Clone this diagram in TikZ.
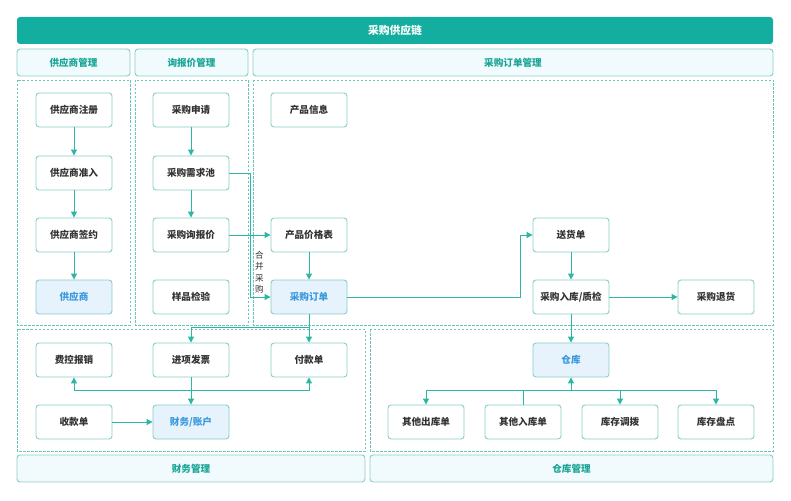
\documentclass[tikz,border=0pt]{standalone}
\usepackage{fontspec}
\setmainfont{Noto Sans CJK SC}
\usetikzlibrary{arrows.meta}
\definecolor{tealbar}{HTML}{13AE9F}
\definecolor{linec}{HTML}{2DB5A6}
\definecolor{boxc}{HTML}{86CEC6}
\definecolor{headfill}{HTML}{F1FAFC}
\definecolor{headtxt}{HTML}{19A596}
\definecolor{dashc}{HTML}{6CC5BB}
\definecolor{bluefill}{HTML}{E7F3FC}
\definecolor{bluetxt}{HTML}{3A98DD}
\definecolor{txt}{HTML}{333333}
\tikzset{
  box/.style={draw=boxc, line width=0.9pt, rounded corners=3pt, fill=white,
    minimum width=76pt, minimum height=34pt, text=txt, font=\fontsize{9.6}{11}\selectfont\bfseries},
  bluebox/.style={box, fill=bluefill, text=bluetxt},
  headbox/.style={draw=boxc, line width=0.9pt, rounded corners=3pt, fill=headfill,
    text=headtxt, font=\fontsize{9.6}{11}\selectfont\bfseries},
  area/.style={draw=dashc, line width=0.7pt, dash pattern=on 2.5pt off 1.5pt},
  arr/.style={draw=linec, line width=1pt, -{Triangle[length=6pt,width=6pt]}},
  ln/.style={draw=linec, line width=1pt},
}
\begin{document}
\begin{tikzpicture}[x=1pt,y=-1pt]
\useasboundingbox (0,0) rectangle (791,500);
% title bar
\node[fill=tealbar, rounded corners=3pt, minimum width=756pt, minimum height=27pt, text=white,
  font=\fontsize{10.8}{12}\selectfont\bfseries, inner sep=0pt] (title) at (395,30.5) {采购供应链};
% header row
\node[headbox, minimum width=113pt, minimum height=27pt] (h1) at (73.5,62.5) {供应商管理};
\node[headbox, minimum width=113pt, minimum height=27pt] (h2) at (191.5,62.5) {询报价管理};
\node[headbox, minimum width=520pt, minimum height=27pt] (h3) at (513,62.5) {采购订单管理};
% dashed areas
\draw[area] (17,80) rectangle (130,325);
\draw[area] (135,80) rectangle (248,325);
\draw[area] (253,80) rectangle (773,325);
\draw[area] (17,329) rectangle (365,451);
\draw[area] (370,329) rectangle (773,451);
% bottom headers
\node[headbox, minimum width=348pt, minimum height=27pt] (h4) at (191,468.5) {财务管理};
\node[headbox, minimum width=403pt, minimum height=27pt] (h5) at (571.5,468.5) {仓库管理};
% column 1
\node[box] (zc) at (74,110) {供应商注册};
\node[box] (zr) at (74,173) {供应商准入};
\node[box] (qy) at (74,235) {供应商签约};
\node[bluebox] (gys) at (74,297) {供应商};
% column 2
\node[box] (sq) at (191,110) {采购申请};
\node[box] (xq) at (191,173) {采购需求池};
\node[box] (xj) at (191,235) {采购询报价};
\node[box] (yp) at (191,297) {样品检验};
% column 3
\node[box] (cp) at (309,110) {产品信息};
\node[box] (jg) at (309,235) {产品价格表};
\node[bluebox] (dd) at (309,297) {采购订单};
\node[box] (sh) at (571,235) {送货单};
\node[box] (rk) at (571,297) {采购入库/质检};
\node[box] (th) at (716,297) {采购退货};
% finance
\node[box] (fy) at (74,360) {费控报销};
\node[box] (jx) at (191,360) {进项发票};
\node[box] (fk) at (309,360) {付款单};
\node[box] (sk) at (74,422) {收款单};
\node[bluebox] (cw) at (191,422) {财务/账户};
% warehouse
\node[bluebox] (ck) at (571,360) {仓库};
\node[box] (qc) at (426,422) {其他出库单};
\node[box] (qr) at (523,422) {其他入库单};
\node[box] (db) at (620,422) {库存调拨};
\node[box] (pd) at (716,422) {库存盘点};
% connectors column 1, 2
\draw[arr] (zc) -- (zr);
\draw[arr] (zr) -- (qy);
\draw[arr] (qy) -- (gys);
\draw[arr] (sq) -- (xq);
\draw[arr] (xq) -- (xj);
\draw[arr] (xj) -- (jg);
\draw[arr] (jg) -- (dd);
\coordinate (j1) at (250,173);
\draw[arr] (xq.east) -- (j1) |- (dd.west);
\node[text=txt, font=\fontsize{8.6}{11.5}\selectfont, align=center, inner sep=0pt] (hb) at (259.5,272) {合\\并\\采\\购};
\coordinate (j2) at (520,235);
\draw[arr] (dd.east) -| (j2) -- (sh.west);
\draw[arr] (sh) -- (rk);
\draw[arr] (rk) -- (th);
\draw[arr] (rk) -- (ck);
% finance connectors
\draw[arr] (dd) -- (fk);
\coordinate (j3) at (309,327);
\draw[arr] (j3) -| (jx.north);
\draw[arr] (jx) -- (cw);
\coordinate (b2) at (191,390);
\draw[arr] (b2) -| (fy.south);
\draw[arr] (b2) -| (fk.south);
\draw[arr] (sk) -- (cw);
% warehouse connectors
\coordinate (b3) at (571,390);
\draw[arr] (b3) -- (ck.south);
\draw[arr] (b3) -| (qc.north);
\draw[ln] (qr.north) |- (b3);
\draw[arr] (b3) -| (db.north);
\draw[arr] (b3) -| (pd.north);
\end{tikzpicture}
\end{document}
